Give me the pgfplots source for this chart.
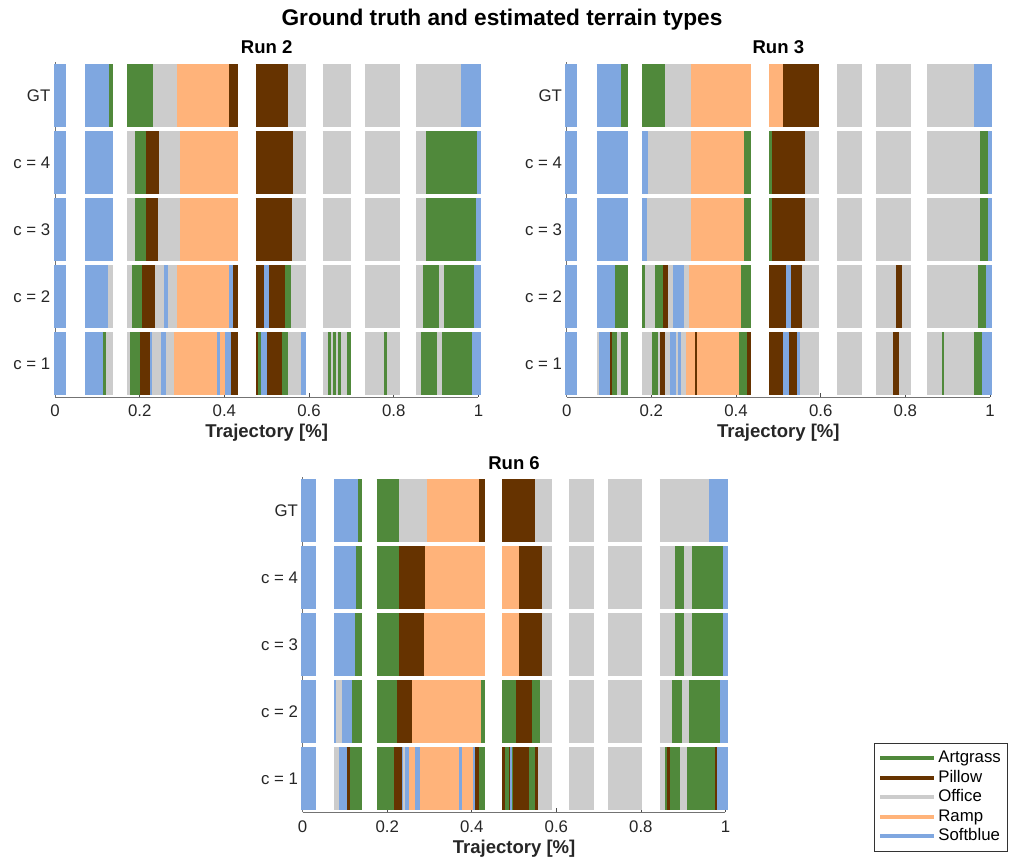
\documentclass[border=0pt]{standalone}
\usepackage{pgfplots}
\pgfplotsset{compat=1.18}
\usepackage{fontspec}
\setmainfont{Liberation Sans}
\definecolor{agc}{RGB}{80,137,59}
\definecolor{pic}{RGB}{102,51,0}
\definecolor{ofc}{RGB}{204,204,204}
\definecolor{rac}{RGB}{255,179,122}
\definecolor{sbc}{RGB}{127,167,224}
\pgfplotsset{
  seg/.style={line width=47.5pt, forget plot},
  runax/.style={
    scale only axis, anchor=south west, height=251.25pt,
    xmin=0, xmax=1, ymin=0.5, ymax=5.5, clip=false,
    unbounded coords=jump,
    axis lines*=left, axis line style={black!55, line width=0.6pt},
    tick align=inside, major tick length=3pt, tick style={black!70, line width=0.5pt},
    xtick={0,0.2,0.4,0.6,0.8,1}, xticklabels={0,0.2,0.4,0.6,0.8,1},
    ytick={1,2,3,4,5}, yticklabels={c = 1,c = 2,c = 3,c = 4,GT},
    ticklabel style={font=\fontsize{12.6}{15}\selectfont, text=black!85},
    xticklabel style={anchor=base, yshift=-15pt},
    xlabel={Trajectory [\%]},
    every axis x label/.style={at={(axis description cs:0.5,0)}, anchor=base, yshift=-30.75pt, font=\bfseries\fontsize{13.9}{16}\selectfont, text=black!85},
    every axis title/.style={at={(axis description cs:0.5,1)}, anchor=base, yshift=6pt, font=\bfseries\fontsize{13.9}{16}\selectfont},
  }
}
\begin{document}
\begin{tikzpicture}
\useasboundingbox (0pt,0pt) rectangle (759.75pt,645pt);
\node[anchor=base, font=\bfseries\fontsize{17}{20}\selectfont] at (376.5pt,625.5pt) {Ground truth and estimated terrain types};

% ---------------- Run 2 ----------------
\begin{axis}[runax, at={(41.25pt,347.25pt)}, width=317.6pt, title={Run 2}]
\addplot[seg,sbc] coordinates {
(-0.002,5)(0.026,5) (nan,nan) (0.071,5)(0.127,5) (nan,nan) (0.959,5)(1.006,5) (nan,nan)
(-0.002,4)(0.026,4) (nan,nan) (0.071,4)(0.137,4) (nan,nan) (0.996,4)(1.006,4) (nan,nan)
(-0.002,3)(0.026,3) (nan,nan) (0.071,3)(0.137,3) (nan,nan) (0.995,3)(1.006,3) (nan,nan)
(-0.002,2)(0.026,2) (nan,nan) (0.071,2)(0.126,2) (nan,nan) (0.257,2)(0.268,2) (nan,nan) (0.41,2)(0.421,2) (nan,nan) (0.494,2)(0.506,2) (nan,nan) (0.990,2)(1.006,2) (nan,nan)
(-0.002,1)(0.026,1) (nan,nan) (0.071,1)(0.113,1) (nan,nan) (0.225,1)(0.230,1) (nan,nan) (0.25,1)(0.262,1) (nan,nan) (0.382,1)(0.389,1) (nan,nan) (0.402,1)(0.415,1) (nan,nan) (0.486,1)(0.5,1) (nan,nan) (0.582,1)(0.592,1) (nan,nan) (0.984,1)(1.006,1)
};
\addplot[seg,agc] coordinates {
(0.127,5)(0.137,5) (nan,nan) (0.171,5)(0.231,5) (nan,nan)
(0.189,4)(0.214,4) (nan,nan) (0.877,4)(0.996,4) (nan,nan)
(0.189,3)(0.214,3) (nan,nan) (0.875,3)(0.995,3) (nan,nan)
(0.183,2)(0.206,2) (nan,nan) (0.542,2)(0.557,2) (nan,nan) (0.870,2)(0.906,2) (nan,nan) (0.918,2)(0.990,2) (nan,nan)
(0.113,1)(0.120,1) (nan,nan) (0.176,1)(0.2,1) (nan,nan) (0.48,1)(0.486,1) (nan,nan) (0.537,1)(0.55,1) (nan,nan) (0.645,1)(0.651,1) (nan,nan) (0.657,1)(0.663,1) (nan,nan) (0.668,1)(0.675,1) (nan,nan) (0.689,1)(0.698,1) (nan,nan) (0.778,1)(0.784,1) (nan,nan) (0.864,1)(0.901,1) (nan,nan) (0.913,1)(0.984,1)
};
\addplot[seg,ofc] coordinates {
(0.231,5)(0.288,5) (nan,nan) (0.55,5)(0.592,5) (nan,nan) (0.632,5)(0.698,5) (nan,nan) (0.731,5)(0.814,5) (nan,nan) (0.853,5)(0.959,5) (nan,nan)
(0.171,4)(0.189,4) (nan,nan) (0.245,4)(0.295,4) (nan,nan) (0.562,4)(0.592,4) (nan,nan) (0.632,4)(0.698,4) (nan,nan) (0.731,4)(0.814,4) (nan,nan) (0.853,4)(0.877,4) (nan,nan)
(0.171,3)(0.189,3) (nan,nan) (0.243,3)(0.294,3) (nan,nan) (0.560,3)(0.592,3) (nan,nan) (0.632,3)(0.698,3) (nan,nan) (0.731,3)(0.814,3) (nan,nan) (0.853,3)(0.875,3) (nan,nan)
(0.126,2)(0.137,2) (nan,nan) (0.171,2)(0.183,2) (nan,nan) (0.237,2)(0.257,2) (nan,nan) (0.268,2)(0.288,2) (nan,nan) (0.557,2)(0.592,2) (nan,nan) (0.632,2)(0.698,2) (nan,nan) (0.731,2)(0.814,2) (nan,nan) (0.853,2)(0.870,2) (nan,nan) (0.906,2)(0.918,2) (nan,nan)
(0.120,1)(0.137,1) (nan,nan) (0.171,1)(0.176,1) (nan,nan) (0.230,1)(0.25,1) (nan,nan) (0.262,1)(0.281,1) (nan,nan) (0.55,1)(0.582,1) (nan,nan) (0.632,1)(0.645,1) (nan,nan) (0.651,1)(0.657,1) (nan,nan) (0.663,1)(0.668,1) (nan,nan) (0.675,1)(0.689,1) (nan,nan) (0.731,1)(0.778,1) (nan,nan) (0.784,1)(0.814,1) (nan,nan) (0.853,1)(0.864,1) (nan,nan) (0.901,1)(0.913,1)
};
\addplot[seg,pic] coordinates {
(0.41,5)(0.431,5) (nan,nan) (0.474,5)(0.55,5) (nan,nan)
(0.214,4)(0.245,4) (nan,nan) (0.474,4)(0.562,4) (nan,nan)
(0.214,3)(0.243,3) (nan,nan) (0.474,3)(0.560,3) (nan,nan)
(0.206,2)(0.237,2) (nan,nan) (0.421,2)(0.431,2) (nan,nan) (0.474,2)(0.494,2) (nan,nan) (0.506,2)(0.542,2) (nan,nan)
(0.2,1)(0.225,1) (nan,nan) (0.415,1)(0.431,1) (nan,nan) (0.474,1)(0.48,1) (nan,nan) (0.5,1)(0.537,1)
};
\addplot[seg,rac] coordinates {
(0.288,5)(0.41,5) (nan,nan)
(0.295,4)(0.431,4) (nan,nan)
(0.294,3)(0.431,3) (nan,nan)
(0.288,2)(0.41,2) (nan,nan)
(0.281,1)(0.382,1) (nan,nan) (0.389,1)(0.402,1)
};
\end{axis}

% ---------------- Run 3 ----------------
\begin{axis}[runax, at={(425pt,347.25pt)}, width=317.5pt, title={Run 3}]
\addplot[seg,sbc] coordinates {
(-0.003,5)(0.025,5) (nan,nan) (0.071,5)(0.128,5) (nan,nan) (0.962,5)(1.005,5) (nan,nan)
(-0.003,4)(0.025,4) (nan,nan) (0.071,4)(0.144,4) (nan,nan) (0.178,4)(0.191,4) (nan,nan) (0.995,4)(1.005,4) (nan,nan)
(-0.003,3)(0.025,3) (nan,nan) (0.071,3)(0.144,3) (nan,nan) (0.178,3)(0.190,3) (nan,nan) (0.995,3)(1.005,3) (nan,nan)
(-0.003,2)(0.025,2) (nan,nan) (0.071,2)(0.115,2) (nan,nan) (0.252,2)(0.277,2) (nan,nan) (0.517,2)(0.530,2) (nan,nan) (0.990,2)(1.005,2) (nan,nan)
(-0.003,1)(0.025,1) (nan,nan) (0.077,1)(0.103,1) (nan,nan) (0.245,1)(0.259,1) (nan,nan) (0.263,1)(0.270,1) (nan,nan) (0.510,1)(0.524,1) (nan,nan) (0.544,1)(0.550,1) (nan,nan) (0.982,1)(1.005,1)
};
\addplot[seg,agc] coordinates {
(0.128,5)(0.144,5) (nan,nan) (0.178,5)(0.233,5) (nan,nan)
(0.420,4)(0.436,4) (nan,nan) (0.479,4)(0.485,4) (nan,nan) (0.976,4)(0.995,4) (nan,nan)
(0.420,3)(0.436,3) (nan,nan) (0.479,3)(0.484,3) (nan,nan) (0.976,3)(0.995,3) (nan,nan)
(0.115,2)(0.144,2) (nan,nan) (0.178,2)(0.184,2) (nan,nan) (0.208,2)(0.227,2) (nan,nan) (0.412,2)(0.436,2) (nan,nan) (0.971,2)(0.990,2) (nan,nan)
(0.108,1)(0.120,1) (nan,nan) (0.128,1)(0.144,1) (nan,nan) (0.202,1)(0.215,1) (nan,nan) (0.406,1)(0.425,1) (nan,nan) (0.887,1)(0.892,1) (nan,nan) (0.963,1)(0.982,1)
};
\addplot[seg,ofc] coordinates {
(0.233,5)(0.293,5) (nan,nan) (0.639,5)(0.698,5) (nan,nan) (0.730,5)(0.813,5) (nan,nan) (0.852,5)(0.962,5) (nan,nan)
(0.191,4)(0.294,4) (nan,nan) (0.563,4)(0.597,4) (nan,nan) (0.639,4)(0.698,4) (nan,nan) (0.730,4)(0.813,4) (nan,nan) (0.852,4)(0.976,4) (nan,nan)
(0.190,3)(0.294,3) (nan,nan) (0.562,3)(0.597,3) (nan,nan) (0.639,3)(0.698,3) (nan,nan) (0.730,3)(0.813,3) (nan,nan) (0.852,3)(0.976,3) (nan,nan)
(0.184,2)(0.208,2) (nan,nan) (0.239,2)(0.252,2) (nan,nan) (0.277,2)(0.288,2) (nan,nan) (0.557,2)(0.597,2) (nan,nan) (0.639,2)(0.698,2) (nan,nan) (0.730,2)(0.778,2) (nan,nan) (0.792,2)(0.813,2) (nan,nan) (0.852,2)(0.971,2) (nan,nan)
(0.071,1)(0.077,1) (nan,nan) (0.120,1)(0.128,1) (nan,nan) (0.178,1)(0.202,1) (nan,nan) (0.215,1)(0.221,1) (nan,nan) (0.233,1)(0.245,1) (nan,nan) (0.259,1)(0.263,1) (nan,nan) (0.270,1)(0.282,1) (nan,nan) (0.550,1)(0.597,1) (nan,nan) (0.639,1)(0.698,1) (nan,nan) (0.730,1)(0.772,1) (nan,nan) (0.786,1)(0.813,1) (nan,nan) (0.852,1)(0.887,1) (nan,nan) (0.892,1)(0.963,1)
};
\addplot[seg,pic] coordinates {
(0.511,5)(0.597,5) (nan,nan)
(0.485,4)(0.563,4) (nan,nan)
(0.484,3)(0.562,3) (nan,nan)
(0.227,2)(0.239,2) (nan,nan) (0.479,2)(0.517,2) (nan,nan) (0.530,2)(0.557,2) (nan,nan) (0.778,2)(0.792,2) (nan,nan)
(0.103,1)(0.108,1) (nan,nan) (0.221,1)(0.233,1) (nan,nan) (0.302,1)(0.307,1) (nan,nan) (0.425,1)(0.436,1) (nan,nan) (0.479,1)(0.510,1) (nan,nan) (0.524,1)(0.544,1) (nan,nan) (0.772,1)(0.786,1)
};
\addplot[seg,rac] coordinates {
(0.293,5)(0.436,5) (nan,nan) (0.479,5)(0.511,5) (nan,nan)
(0.294,4)(0.420,4) (nan,nan)
(0.294,3)(0.420,3) (nan,nan)
(0.288,2)(0.412,2) (nan,nan)
(0.282,1)(0.302,1) (nan,nan) (0.307,1)(0.406,1)
};
\end{axis}

% ---------------- Run 6 ----------------
\begin{axis}[runax, at={(227pt,36pt)}, width=317.1pt, title={Run 6},
  legend cell align=left,
  legend image code/.code={\draw[#1, line width=3pt] (3pt,0pt) -- (43pt,0pt);},
  legend style={at={(axis description cs:1.3512,0.206)}, anchor=north west,
    draw=black!80, line width=0.5pt, font=\fontsize{12.6}{14}\selectfont,
    inner xsep=3pt, inner ysep=4pt, row sep=0pt,
    nodes={inner xsep=2pt, inner ysep=0pt, text height=10.5pt, text depth=4.1pt}}]
\addlegendimage{agc}\addlegendentry{Artgrass}
\addlegendimage{pic}\addlegendentry{Pillow}
\addlegendimage{ofc}\addlegendentry{Office}
\addlegendimage{rac}\addlegendentry{Ramp}
\addlegendimage{sbc}\addlegendentry{Softblue}
\addplot[seg,sbc] coordinates {
(-0.003,5)(0.031,5) (nan,nan) (0.075,5)(0.131,5) (nan,nan) (0.962,5)(1.005,5) (nan,nan)
(-0.003,4)(0.031,4) (nan,nan) (0.075,4)(0.125,4) (nan,nan) (0.995,4)(1.005,4) (nan,nan)
(-0.003,3)(0.031,3) (nan,nan) (0.075,3)(0.124,3) (nan,nan) (0.995,3)(1.005,3) (nan,nan)
(-0.003,2)(0.031,2) (nan,nan) (0.075,2)(0.080,2) (nan,nan) (0.092,2)(0.117,2) (nan,nan) (0.987,2)(1.005,2) (nan,nan)
(-0.003,1)(0.031,1) (nan,nan) (0.087,1)(0.104,1) (nan,nan) (0.234,1)(0.238,1) (nan,nan) (0.242,1)(0.252,1) (nan,nan) (0.265,1)(0.278,1) (nan,nan) (0.370,1)(0.378,1) (nan,nan) (0.402,1)(0.407,1) (nan,nan) (0.491,1)(0.496,1) (nan,nan) (0.981,1)(1.005,1)
};
\addplot[seg,agc] coordinates {
(0.131,5)(0.141,5) (nan,nan) (0.175,5)(0.228,5) (nan,nan)
(0.125,4)(0.141,4) (nan,nan) (0.175,4)(0.228,4) (nan,nan) (0.880,4)(0.903,4) (nan,nan) (0.922,4)(0.995,4) (nan,nan)
(0.124,3)(0.141,3) (nan,nan) (0.175,3)(0.228,3) (nan,nan) (0.880,3)(0.903,3) (nan,nan) (0.922,3)(0.995,3) (nan,nan)
(0.117,2)(0.141,2) (nan,nan) (0.175,2)(0.222,2) (nan,nan) (0.422,2)(0.432,2) (nan,nan) (0.472,2)(0.504,2) (nan,nan) (0.542,2)(0.561,2) (nan,nan) (0.874,2)(0.896,2) (nan,nan) (0.914,2)(0.987,2) (nan,nan)
(0.111,1)(0.141,1) (nan,nan) (0.175,1)(0.217,1) (nan,nan) (0.416,1)(0.432,1) (nan,nan) (0.478,1)(0.488,1) (nan,nan) (0.496,1)(0.498,1) (nan,nan) (0.535,1)(0.550,1) (nan,nan) (0.856,1)(0.862,1) (nan,nan) (0.868,1)(0.892,1) (nan,nan) (0.909,1)(0.976,1)
};
\addplot[seg,ofc] coordinates {
(0.228,5)(0.294,5) (nan,nan) (0.550,5)(0.589,5) (nan,nan) (0.630,5)(0.689,5) (nan,nan) (0.723,5)(0.803,5) (nan,nan) (0.844,5)(0.962,5) (nan,nan)
(0.567,4)(0.589,4) (nan,nan) (0.630,4)(0.689,4) (nan,nan) (0.723,4)(0.803,4) (nan,nan) (0.844,4)(0.880,4) (nan,nan) (0.903,4)(0.922,4) (nan,nan)
(0.567,3)(0.589,3) (nan,nan) (0.630,3)(0.689,3) (nan,nan) (0.723,3)(0.803,3) (nan,nan) (0.844,3)(0.880,3) (nan,nan) (0.903,3)(0.922,3) (nan,nan)
(0.080,2)(0.092,2) (nan,nan) (0.561,2)(0.589,2) (nan,nan) (0.630,2)(0.689,2) (nan,nan) (0.723,2)(0.803,2) (nan,nan) (0.844,2)(0.874,2) (nan,nan) (0.896,2)(0.914,2) (nan,nan)
(0.075,1)(0.087,1) (nan,nan) (0.238,1)(0.242,1) (nan,nan) (0.556,1)(0.589,1) (nan,nan) (0.630,1)(0.689,1) (nan,nan) (0.723,1)(0.803,1) (nan,nan) (0.844,1)(0.856,1) (nan,nan) (0.892,1)(0.909,1)
};
\addplot[seg,pic] coordinates {
(0.416,5)(0.432,5) (nan,nan) (0.472,5)(0.550,5) (nan,nan)
(0.228,4)(0.289,4) (nan,nan) (0.512,4)(0.567,4) (nan,nan)
(0.228,3)(0.288,3) (nan,nan) (0.512,3)(0.567,3) (nan,nan)
(0.222,2)(0.259,2) (nan,nan) (0.504,2)(0.542,2) (nan,nan)
(0.104,1)(0.111,1) (nan,nan) (0.217,1)(0.234,1) (nan,nan) (0.407,1)(0.416,1) (nan,nan) (0.472,1)(0.478,1) (nan,nan) (0.488,1)(0.491,1) (nan,nan) (0.498,1)(0.535,1) (nan,nan) (0.550,1)(0.556,1) (nan,nan) (0.862,1)(0.868,1) (nan,nan) (0.976,1)(0.981,1)
};
\addplot[seg,rac] coordinates {
(0.294,5)(0.416,5) (nan,nan)
(0.289,4)(0.432,4) (nan,nan) (0.472,4)(0.512,4) (nan,nan)
(0.288,3)(0.432,3) (nan,nan) (0.472,3)(0.512,3) (nan,nan)
(0.259,2)(0.422,2) (nan,nan)
(0.252,1)(0.265,1) (nan,nan) (0.278,1)(0.370,1) (nan,nan) (0.378,1)(0.402,1)
};
\end{axis}
\end{tikzpicture}
\end{document}
